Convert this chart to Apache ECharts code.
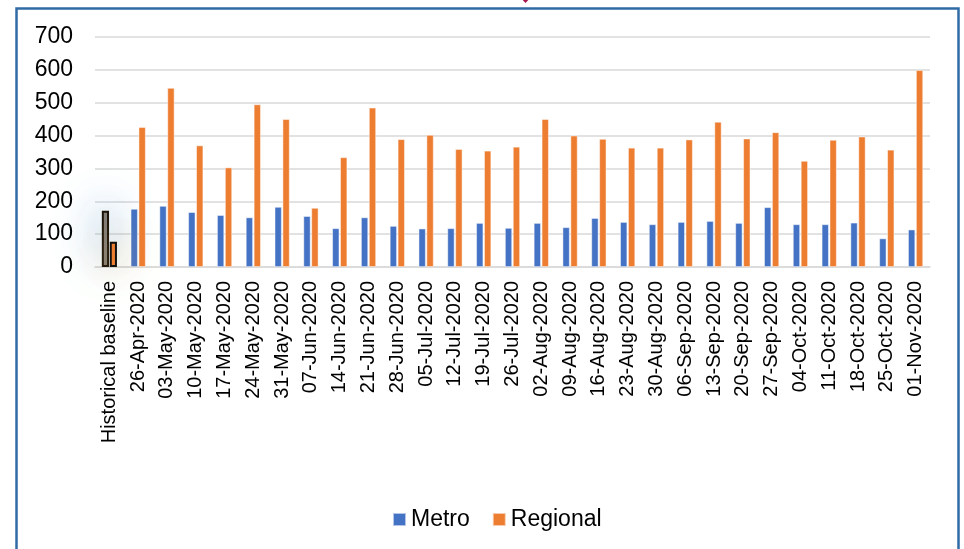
<!DOCTYPE html>
<html>
<head>
<meta charset="utf-8">
<script src="https://cdn.jsdelivr.net/npm/echarts@6/dist/echarts.min.js"></script>
<style>
html,body{margin:0;padding:0;background:#fff;}
#chart{width:964px;height:549px;}
</style>
</head>
<body>
<div id="chart"></div>
<script>
var categories = ["Historical baseline","26-Apr-2020","03-May-2020","10-May-2020","17-May-2020","24-May-2020","31-May-2020","07-Jun-2020","14-Jun-2020","21-Jun-2020","28-Jun-2020","05-Jul-2020","12-Jul-2020","19-Jul-2020","26-Jul-2020","02-Aug-2020","09-Aug-2020","16-Aug-2020","23-Aug-2020","30-Aug-2020","06-Sep-2020","13-Sep-2020","20-Sep-2020","27-Sep-2020","04-Oct-2020","11-Oct-2020","18-Oct-2020","25-Oct-2020","01-Nov-2020"];
var metro = [171,177,186,167,158,151,183,155,118,151,125,117,118,134,119,134,121,149,137,130,137,140,134,182,130,130,135,87,114];
var regional = [77,426,545,370,303,495,450,180,334,485,389,402,359,354,366,450,400,390,363,363,388,442,391,410,323,387,397,357,599];
var yTicks = [0,100,200,300,400,500,600,700];

var FONT = "'Liberation Sans', Arial, sans-serif";

function buildSeries(vals, baseStyle) {
  return vals.map(function (v, i) {
    if (i === 0) return { value: v, itemStyle: baseStyle };
    return v;
  });
}

var chart = echarts.init(document.getElementById('chart'), null, { renderer: 'canvas' });
chart.setOption({
  backgroundColor: '#ffffff',
  animation: false,
  textStyle: { fontFamily: FONT, color: '#000' },
  graphic: [
    { type: 'rect', shape: { x: 16.5, y: 8.5, width: 942, height: 600 },
      style: { fill: null, stroke: '#2f6ba5', lineWidth: 2.5 }, z: 100 },
    { type: 'polygon', shape: { points: [[519, -4], [525.5, 3], [532, -4]] },
      style: { fill: '#a3164d' }, z: 100 }
  ],
  grid: { left: 95, right: 34, top: 37, bottom: 282, containLabel: false },
  legend: {
    data: ['Metro', 'Regional'],
    left: 387, top: 503,
    icon: 'rect', itemWidth: 13, itemHeight: 13, itemGap: 22,
    textStyle: { fontSize: 23, fontFamily: FONT, color: '#000' }
  },
  xAxis: {
    type: 'category',
    data: categories,
    axisTick: { show: false },
    axisLine: { lineStyle: { color: '#d9d9d9', width: 1.5 } },
    axisLabel: { rotate: 90, interval: 0, fontSize: 20, margin: 14, color: '#000', fontFamily: FONT }
  },
  yAxis: {
    type: 'value',
    min: yTicks[0], max: yTicks[yTicks.length - 1], interval: 100,
    axisLine: { show: false },
    axisTick: { show: false },
    splitLine: { lineStyle: { color: '#d9d9d9', width: 1.5 } },
    axisLabel: { fontSize: 23, margin: 22, color: '#000', fontFamily: FONT }
  },
  series: [
    {
      name: 'Metro', type: 'bar', barWidth: '25%', barGap: '10%', clip: false,
      itemStyle: { color: '#4472C4', borderColor: 'rgba(255,255,255,0.6)', borderWidth: 0.8 },
      data: buildSeries(metro, {
        color: 'rgba(120,108,96,0.9)', borderColor: '#1a1208', borderWidth: 2,
        shadowBlur: 40, shadowOffsetX: 0.01, shadowOffsetY: -6, shadowColor: 'rgba(91,155,213,1)'
      })
    },
    {
      name: 'Regional', type: 'bar', barWidth: '25%', barGap: '10%', clip: false,
      itemStyle: { color: '#ED7D31', borderColor: 'rgba(255,255,255,0.6)', borderWidth: 0.8 },
      data: buildSeries(regional, {
        color: '#ED7D31', borderColor: '#111', borderWidth: 2,
        shadowBlur: 40, shadowOffsetX: 2, shadowOffsetY: 0.01, shadowColor: 'rgba(250,190,90,1)'
      })
    }
  ]
});
</script>
</body>
</html>
